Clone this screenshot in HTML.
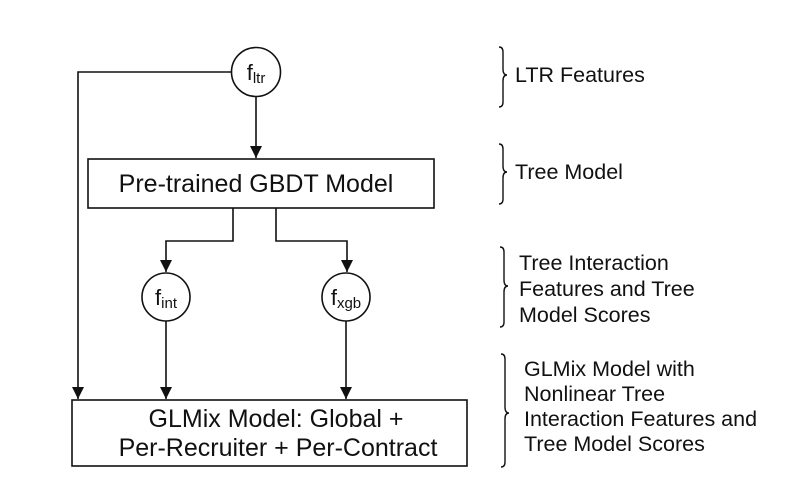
<!DOCTYPE html>
<html><head><meta charset="utf-8"><style>
html,body{margin:0;padding:0;background:#fff;}
svg{display:block;}
text{font-family:"Liberation Sans",Arial,sans-serif;fill:#111;}
</style></head><body>
<svg width="800" height="479" viewBox="0 0 800 479" xmlns="http://www.w3.org/2000/svg">
<defs><marker id="a" markerWidth="12" markerHeight="12" refX="10" refY="5" orient="auto" markerUnits="userSpaceOnUse" viewBox="0 0 10 10"><path d="M0,0 L10,5 L0,10 z" fill="#111"/></marker></defs>
<g stroke="#111" stroke-width="1.6" fill="none">
<circle cx="256" cy="72" r="24.5"/>
<polyline points="231,72 78,72 78,399" marker-end="url(#a)"/>
<line x1="256" y1="97" x2="256" y2="158" marker-end="url(#a)"/>
<rect x="88" y="159" width="346" height="49"/>
<polyline points="233,208 233,241 166,241 166,272" marker-end="url(#a)"/>
<polyline points="276,208 276,241 347,241 347,272" marker-end="url(#a)"/>
<circle cx="166" cy="297" r="24"/>
<circle cx="346" cy="297" r="24"/>
<line x1="166" y1="321" x2="166" y2="399" marker-end="url(#a)"/>
<line x1="346" y1="321" x2="346" y2="399" marker-end="url(#a)"/>
<rect x="72" y="400" width="395" height="66"/>
<path d="M499,47 q4,0 4,5 v17 q0,6 4,6 q-4,0 -4,6 v21 q0,5 -4,5" stroke-width="1.4"/>
<path d="M499,144 q4,0 4,5 v17 q0,6 4,6 q-4,0 -4,6 v21 q0,5 -4,5" stroke-width="1.4"/>
<path d="M500,247 q4,0 4,5 v28 q0,6 4,6 q-4,0 -4,6 v30 q0,5 -4,5" stroke-width="1.4"/>
<path d="M501,354 q4,0 4,5 v48 q0,6 4,6 q-4,0 -4,6 v43 q0,5 -4,5" stroke-width="1.4"/>
</g>
<text x="256" y="80" font-size="22" text-anchor="middle">f<tspan font-size="15" dy="3">ltr</tspan></text>
<text x="166" y="305" font-size="22" text-anchor="middle">f<tspan font-size="15" dy="3">int</tspan></text>
<text x="346" y="305" font-size="22" text-anchor="middle">f<tspan font-size="15" dy="3">xgb</tspan></text>
<text x="256" y="192" font-size="25" text-anchor="middle">Pre-trained GBDT Model</text>
<text x="276" y="427" font-size="25" text-anchor="middle">GLMix Model: Global +</text>
<text x="278" y="456" font-size="25" text-anchor="middle">Per-Recruiter + Per-Contract</text>
<g font-size="21.5">
<text x="515" y="82">LTR Features</text>
<text x="515" y="179">Tree Model</text>
<text x="519" y="270">Tree Interaction</text>
<text x="519" y="296">Features and Tree</text>
<text x="519" y="322">Model Scores</text>
<text x="524" y="376">GLMix Model with</text>
<text x="524" y="401">Nonlinear Tree</text>
<text x="524" y="426">Interaction Features and</text>
<text x="524" y="451">Tree Model Scores</text>
</g>
</svg>
</body></html>
